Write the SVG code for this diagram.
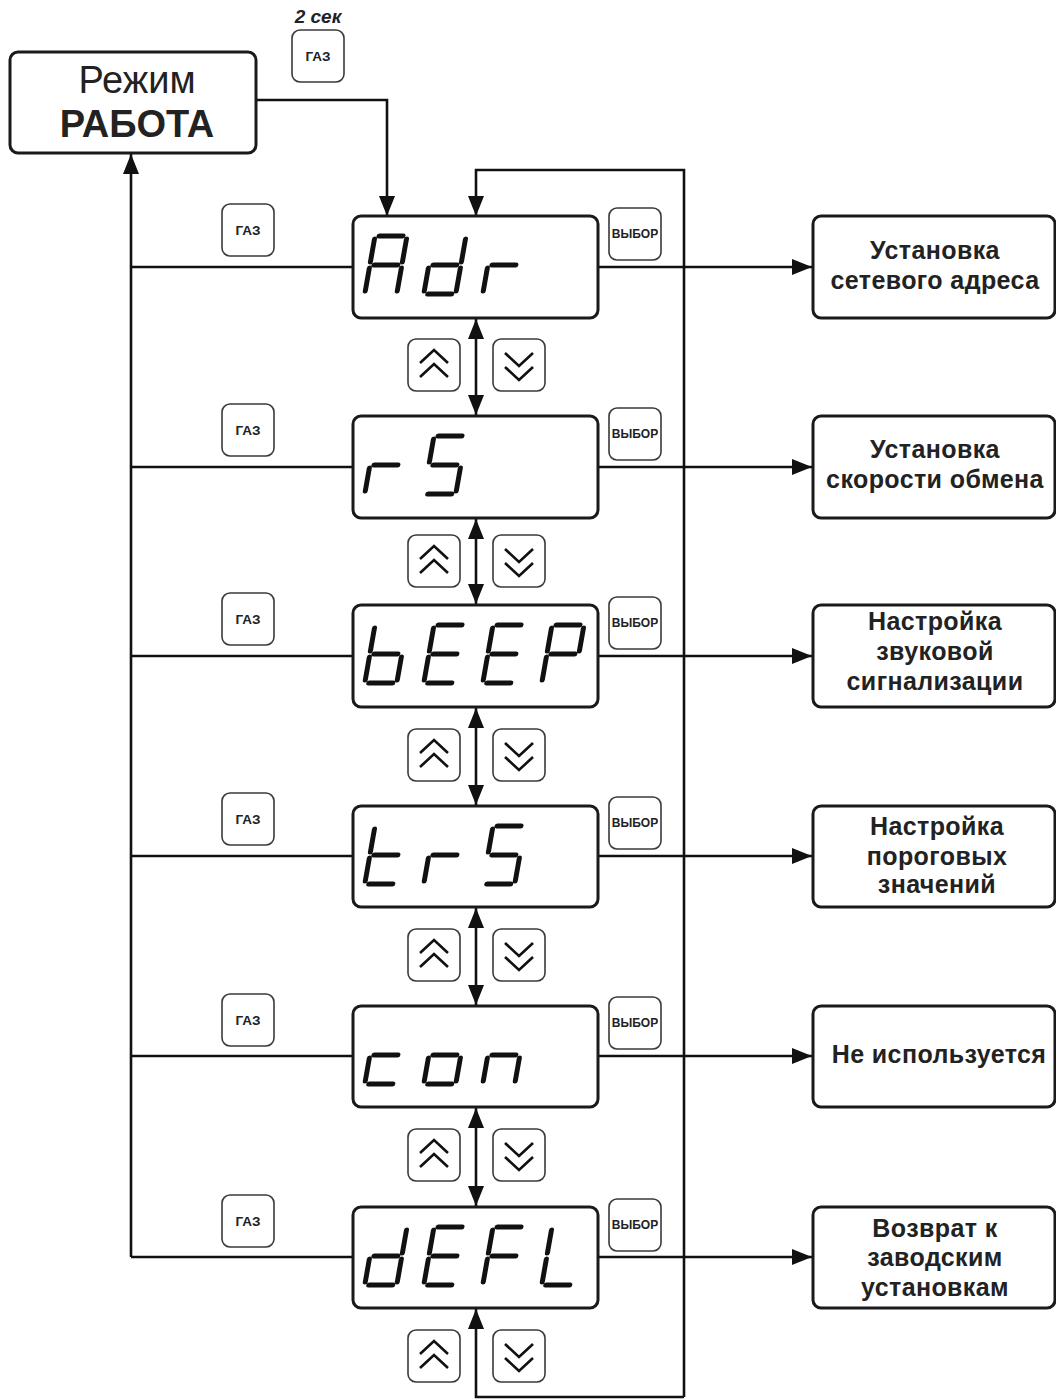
<svg xmlns="http://www.w3.org/2000/svg" xmlns:xlink="http://www.w3.org/1999/xlink" width="1056" height="1400" viewBox="0 0 1056 1400">
<style>
.box{fill:#fff;stroke:#1a1a1a;stroke-width:3}
.btn{fill:#fff;stroke:#3a3a3a;stroke-width:1.6}
.ln{fill:none;stroke:#111;stroke-width:2.6}
.chev{fill:none;stroke:#111;stroke-width:2.6;stroke-linejoin:miter}
.seg{stroke:#111;stroke-width:5;stroke-linecap:round}
.lbl{font-family:"Liberation Sans",Arial,sans-serif;font-weight:bold;font-size:25px;letter-spacing:0.4px;fill:#222;text-anchor:middle}
.gaz{font-family:"Liberation Sans",Arial,sans-serif;font-weight:bold;font-size:13.5px;fill:#222;text-anchor:middle}
.vyb{font-family:"Liberation Sans",Arial,sans-serif;font-weight:bold;font-size:12px;fill:#222;text-anchor:middle}
</style>
<defs>
<marker id="ah" viewBox="0 0 20 16" markerWidth="20" markerHeight="16" refX="20" refY="8" orient="auto-start-reverse" markerUnits="userSpaceOnUse"><path d="M0,0 L20,8 L0,16 z" fill="#111"/></marker>
<line id="sa" class="seg" x1="4" y1="0" x2="28" y2="0"/>
<line id="sb" class="seg" x1="32" y1="3" x2="32" y2="26"/>
<line id="sc" class="seg" x1="32" y1="32" x2="32" y2="55"/>
<line id="sd" class="seg" x1="4" y1="58" x2="28" y2="58"/>
<line id="se" class="seg" x1="0" y1="32" x2="0" y2="55"/>
<line id="sf" class="seg" x1="0" y1="3" x2="0" y2="26"/>
<line id="sg" class="seg" x1="4" y1="29" x2="28" y2="29"/>
<g id="up"><rect class="btn" x="0" y="0" width="52" height="52" rx="8"/><path class="chev" d="M12,24 L26,11 L40,24 M12,38 L26,25 L40,38"/></g>
<g id="dn"><rect class="btn" x="0" y="0" width="52" height="52" rx="8"/><path class="chev" d="M12,14 L26,27 L40,14 M12,28 L26,41 L40,28"/></g>
<g id="gazb"><rect class="btn" x="0" y="0" width="52" height="52" rx="8"/><text class="gaz" x="26" y="31">ГАЗ</text></g>
<g id="vybb"><rect class="btn" x="0" y="0" width="52" height="52" rx="8"/><text class="vyb" x="26" y="30">ВЫБОР</text></g>
</defs>
<rect width="1056" height="1400" fill="#fff"/>

<g id="connectors">
<path class="ln" d="M256,100 H387 V216" marker-end="url(#ah)"/>
<path class="ln" d="M684,1397 V170 H476 V216" marker-end="url(#ah)"/>
<path class="ln" d="M684,1397 H476 V1309" marker-end="url(#ah)"/>
<path class="ln" d="M131,1257 V154" marker-end="url(#ah)"/>
<path class="ln" d="M131,267 H353 M131,467 H353 M131,656 H353 M131,856 H353 M131,1056 H353 M131,1257 H353"/>
<path class="ln" d="M598,267 H812" marker-end="url(#ah)"/>
<path class="ln" d="M598,467 H812" marker-end="url(#ah)"/>
<path class="ln" d="M598,656 H812" marker-end="url(#ah)"/>
<path class="ln" d="M598,856 H812" marker-end="url(#ah)"/>
<path class="ln" d="M598,1056 H812" marker-end="url(#ah)"/>
<path class="ln" d="M598,1257 H812" marker-end="url(#ah)"/>
<path class="ln" d="M476,319 V415" marker-start="url(#ah)" marker-end="url(#ah)"/>
<path class="ln" d="M476,519 V604" marker-start="url(#ah)" marker-end="url(#ah)"/>
<path class="ln" d="M476,708 V805" marker-start="url(#ah)" marker-end="url(#ah)"/>
<path class="ln" d="M476,908 V1005" marker-start="url(#ah)" marker-end="url(#ah)"/>
<path class="ln" d="M476,1108 V1206" marker-start="url(#ah)" marker-end="url(#ah)"/>
</g>

<g id="mode">
<rect class="box" x="10" y="52" width="246" height="101" rx="8"/>
<text x="137" y="93" font-family="'Liberation Sans',Arial,sans-serif" font-size="38" fill="#222" text-anchor="middle">Режим</text>
<text x="137" y="137" font-family="'Liberation Sans',Arial,sans-serif" font-size="38" font-weight="bold" fill="#222" text-anchor="middle">РАБОТА</text>
</g>

<g id="gaz-top">
<text x="318" y="23" font-family="'Liberation Sans',Arial,sans-serif" font-size="19" font-weight="bold" font-style="italic" fill="#222" text-anchor="middle">2 сек</text>
<use xlink:href="#gazb" x="292" y="30"/>
</g>

<g id="row-adr">
<use xlink:href="#gazb" x="222" y="204"/>
<rect class="box" x="353" y="216" width="245" height="102" rx="8"/>
<g transform="translate(375,236) skewX(-10)"><use xlink:href="#sa"/><use xlink:href="#sb"/><use xlink:href="#sc"/><use xlink:href="#se"/><use xlink:href="#sf"/><use xlink:href="#sg"/></g>
<g transform="translate(434,236) skewX(-10)"><use xlink:href="#sb"/><use xlink:href="#sc"/><use xlink:href="#sd"/><use xlink:href="#se"/><use xlink:href="#sg"/></g>
<g transform="translate(493,236) skewX(-10)"><use xlink:href="#se"/><use xlink:href="#sg"/></g>
<use xlink:href="#vybb" x="609" y="208"/>
<use xlink:href="#up" x="408" y="339"/>
<use xlink:href="#dn" x="493" y="339"/>
</g>
<g id="box-adr">
<rect class="box" x="813" y="216" width="242" height="102" rx="8"/>
<text class="lbl" x="935" y="259">Установка</text>
<text class="lbl" x="935" y="289">сетевого адреса</text>
</g>

<g id="row-rs">
<use xlink:href="#gazb" x="222" y="404"/>
<rect class="box" x="353" y="416" width="245" height="102" rx="8"/>
<g transform="translate(375,436) skewX(-10)"><use xlink:href="#se"/><use xlink:href="#sg"/></g>
<g transform="translate(434,436) skewX(-10)"><use xlink:href="#sa"/><use xlink:href="#sf"/><use xlink:href="#sg"/><use xlink:href="#sc"/><use xlink:href="#sd"/></g>
<use xlink:href="#vybb" x="609" y="408"/>
<use xlink:href="#up" x="408" y="535"/>
<use xlink:href="#dn" x="493" y="535"/>
</g>
<g id="box-rs">
<rect class="box" x="813" y="416" width="242" height="102" rx="8"/>
<text class="lbl" x="935" y="458">Установка</text>
<text class="lbl" x="935" y="488">скорости обмена</text>
</g>

<g id="row-beep">
<use xlink:href="#gazb" x="222" y="593"/>
<rect class="box" x="353" y="605" width="245" height="102" rx="8"/>
<g transform="translate(375,625) skewX(-10)"><use xlink:href="#sf"/><use xlink:href="#se"/><use xlink:href="#sd"/><use xlink:href="#sc"/><use xlink:href="#sg"/></g>
<g transform="translate(434,625) skewX(-10)"><use xlink:href="#sa"/><use xlink:href="#sf"/><use xlink:href="#sg"/><use xlink:href="#se"/><use xlink:href="#sd"/></g>
<g transform="translate(493,625) skewX(-10)"><use xlink:href="#sa"/><use xlink:href="#sf"/><use xlink:href="#sg"/><use xlink:href="#se"/><use xlink:href="#sd"/></g>
<g transform="translate(552,625) skewX(-10)"><use xlink:href="#sa"/><use xlink:href="#sb"/><use xlink:href="#sf"/><use xlink:href="#sg"/><use xlink:href="#se"/></g>
<use xlink:href="#vybb" x="609" y="597"/>
<use xlink:href="#up" x="408" y="729"/>
<use xlink:href="#dn" x="493" y="729"/>
</g>
<g id="box-beep">
<rect class="box" x="813" y="605" width="242" height="102" rx="8"/>
<text class="lbl" x="935" y="630">Настройка</text>
<text class="lbl" x="935" y="660">звуковой</text>
<text class="lbl" x="935" y="690">сигнализации</text>
</g>

<g id="row-trs">
<use xlink:href="#gazb" x="222" y="793"/>
<rect class="box" x="353" y="806" width="245" height="101" rx="8"/>
<g transform="translate(375,826) skewX(-10)"><use xlink:href="#sf"/><use xlink:href="#se"/><use xlink:href="#sd"/><use xlink:href="#sg"/></g>
<g transform="translate(434,826) skewX(-10)"><use xlink:href="#se"/><use xlink:href="#sg"/></g>
<g transform="translate(493,826) skewX(-10)"><use xlink:href="#sa"/><use xlink:href="#sf"/><use xlink:href="#sg"/><use xlink:href="#sc"/><use xlink:href="#sd"/></g>
<use xlink:href="#vybb" x="609" y="797"/>
<use xlink:href="#up" x="408" y="929"/>
<use xlink:href="#dn" x="493" y="929"/>
</g>
<g id="box-trs">
<rect class="box" x="813" y="806" width="242" height="101" rx="8"/>
<text class="lbl" x="937" y="835">Настройка</text>
<text class="lbl" x="937" y="865">пороговых</text>
<text class="lbl" x="937" y="893">значений</text>
</g>

<g id="row-con">
<use xlink:href="#gazb" x="222" y="994"/>
<rect class="box" x="353" y="1006" width="245" height="101" rx="8"/>
<g transform="translate(375,1026) skewX(-10)"><use xlink:href="#sg"/><use xlink:href="#se"/><use xlink:href="#sd"/></g>
<g transform="translate(434,1026) skewX(-10)"><use xlink:href="#sg"/><use xlink:href="#sc"/><use xlink:href="#sd"/><use xlink:href="#se"/></g>
<g transform="translate(493,1026) skewX(-10)"><use xlink:href="#sg"/><use xlink:href="#sc"/><use xlink:href="#se"/></g>
<use xlink:href="#vybb" x="609" y="997"/>
<use xlink:href="#up" x="408" y="1129"/>
<use xlink:href="#dn" x="493" y="1129"/>
</g>
<g id="box-con">
<rect class="box" x="813" y="1006" width="242" height="101" rx="8"/>
<text class="lbl" x="939" y="1063">Не используется</text>
</g>

<g id="row-defl">
<use xlink:href="#gazb" x="222" y="1195"/>
<rect class="box" x="353" y="1207" width="245" height="101" rx="8"/>
<g transform="translate(375,1227) skewX(-10)"><use xlink:href="#sb"/><use xlink:href="#sc"/><use xlink:href="#sd"/><use xlink:href="#se"/><use xlink:href="#sg"/></g>
<g transform="translate(434,1227) skewX(-10)"><use xlink:href="#sa"/><use xlink:href="#sf"/><use xlink:href="#sg"/><use xlink:href="#se"/><use xlink:href="#sd"/></g>
<g transform="translate(493,1227) skewX(-10)"><use xlink:href="#sa"/><use xlink:href="#sf"/><use xlink:href="#sg"/><use xlink:href="#se"/></g>
<g transform="translate(552,1227) skewX(-10)"><use xlink:href="#sf"/><use xlink:href="#se"/><use xlink:href="#sd"/></g>
<use xlink:href="#vybb" x="609" y="1199"/>
<use xlink:href="#up" x="408" y="1330"/>
<use xlink:href="#dn" x="493" y="1330"/>
</g>
<g id="box-defl">
<rect class="box" x="813" y="1207" width="242" height="101" rx="8"/>
<text class="lbl" x="935" y="1237">Возврат к</text>
<text class="lbl" x="935" y="1266">заводским</text>
<text class="lbl" x="935" y="1296">установкам</text>
</g>
</svg>
